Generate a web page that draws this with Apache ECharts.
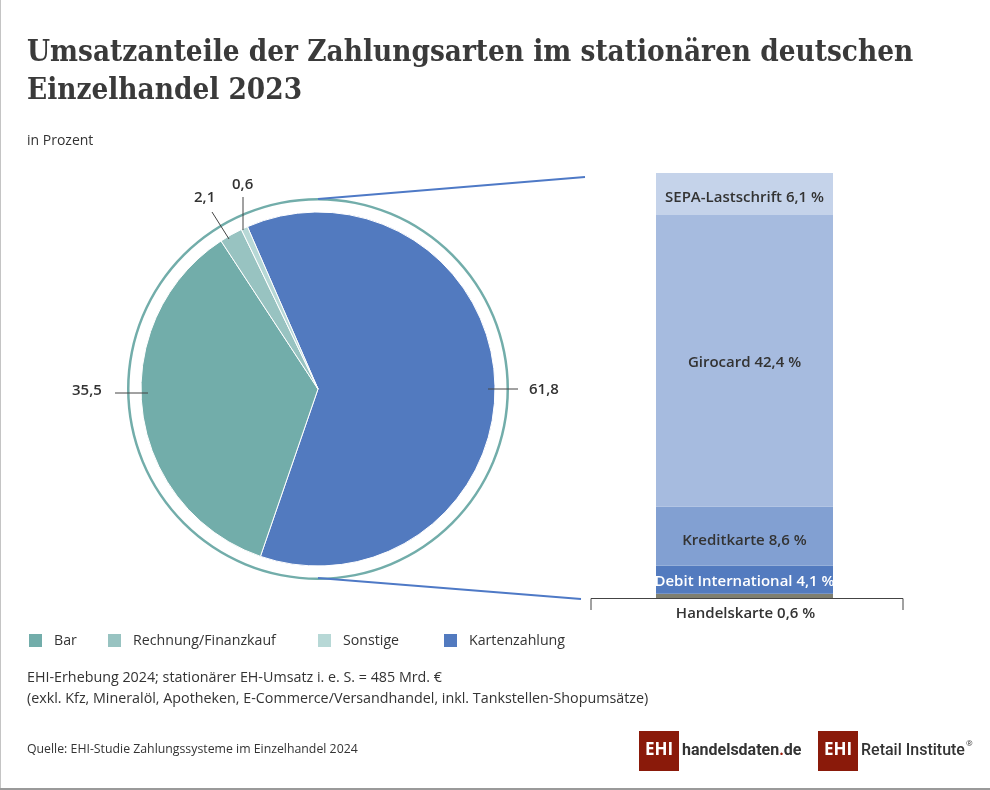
<!DOCTYPE html>
<html>
<head>
<meta charset="utf-8">
<style>html,body{margin:0;padding:0;background:#fff}#main{width:990px;height:790px}</style>
<script src="https://cdn.jsdelivr.net/npm/echarts@6/dist/echarts.min.js"></script>
</head>
<body>
<div id="main"></div>
<script>
// Anteile Kreis
var pieNames = ['Kartenzahlung', 'Bar', 'Rechnung/Finanzkauf', 'Sonstige'];
var pieValues = [61.8, 35.5, 2.1, 0.6];
var pieColors = ['#527ABF', '#72ADAA', '#98C3C1', '#B7D8D6'];
var legendOrder = ['Bar', 'Rechnung/Finanzkauf', 'Sonstige', 'Kartenzahlung'];

// Aufteilung Kartenzahlung, von oben nach unten
var barNames = ['SEPA-Lastschrift', 'Girocard', 'Kreditkarte', 'Debit International', 'Handelskarte'];
var barValues = [6.1, 42.4, 8.6, 4.1, 0.6];
var barColors = ['#C5D3EA', '#A6BBDF', '#82A0D2', '#537BBF', '#7F7F70'];

var bodyFont = 'Open Sans';
var textColor = '#333333';
var leaderColor = '#444444';
var blueLine = '#4E79C6';

function comma(v) { return v.toFixed(1).replace('.', ','); }

// Position der Kreis-Beschriftungen, der Legende und Versatz der Balkentexte
var pieLabelPos = [[529, 382], [72, 383], [194, 190], [232, 177]];
var legendLeft = [27, 106, 316, 442];
var barLabelOffset = [[0, 4], [0, 2], [0, 5], [0, 2], [1, 0]];

// gestapelt von unten: Handelskarte zuerst
var barSeries = [];
for (var i = barNames.length - 1; i >= 0; i--) {
	barSeries.push({
		type: 'bar',
		name: barNames[i],
		stack: 'karte',
		barWidth: '100%',
		silent: true,
		data: [barValues[i]],
		itemStyle: { color: barColors[i] },
		label: {
			show: true,
			position: i == 4 ? 'bottom' : 'inside',
			distance: i == 4 ? 8 : 0,
			offset: barLabelOffset[i],
			formatter: function (p) { return p.seriesName + ' ' + comma(p.value) + ' %'; },
			color: i == 3 ? '#ffffff' : textColor,
			fontFamily: bodyFont,
			fontWeight: 600,
			fontSize: 15
		}
	});
}

var chart = echarts.init(document.getElementById('main'));

function line(x1, y1, x2, y2, color, w) {
	return { type: 'line', z: 20, silent: true, shape: { x1: x1, y1: y1, x2: x2, y2: y2 }, style: { stroke: color, lineWidth: w } };
}
function txt(x, y, s, size, weight, font, color) {
	return { type: 'text', z: 20, silent: true, x: x, y: y, style: { text: s, fontSize: size, fontWeight: weight, fontFamily: font, fill: color || textColor } };
}

var option = {
	backgroundColor: '#ffffff',
	animation: false,
	title: {
		text: 'Umsatzanteile der Zahlungsarten im stationären deutschen\nEinzelhandel 2023',
		left: 22,
		top: 29,
		textStyle: { fontFamily: 'DejaVu Serif Condensed', fontWeight: 700, fontSize: 29.4, lineHeight: 38, color: '#3A3A3A' }
	},
	legend: legendOrder.map(function (n, i) {
		return {
			data: [n],
			left: legendLeft[i],
			top: 632,
			padding: 0,
			itemWidth: 15,
			itemHeight: 15,
			icon: 'rect',
			selectedMode: false,
			textStyle: { fontFamily: bodyFont, fontSize: 14.2, color: textColor, padding: [0, 0, 0, 6] }
		};
	}),
	grid: { left: 656, top: 173, width: 177, height: 425, containLabel: false },
	xAxis: { type: 'category', data: ['Kartenzahlung'], show: false },
	yAxis: { type: 'value', min: 0, max: 61.8, show: false },
	series: [
		{
			type: 'pie',
			center: [318, 389],
			radius: [0, 177],
			startAngle: 113.5,
			clockwise: true,
			silent: true,
			data: pieNames.map(function (n, i) { return { name: n, value: pieValues[i], itemStyle: { color: pieColors[i] } }; }),
			itemStyle: { borderColor: '#ffffff', borderWidth: 1 },
			label: {
				show: true,
				formatter: function (p) { return comma(p.value); },
				fontFamily: bodyFont,
				fontWeight: 600,
				fontSize: 15,
				color: textColor
			},
			labelLine: { show: false },
			labelLayout: function (p) {
				return { x: pieLabelPos[p.dataIndex][0], y: pieLabelPos[p.dataIndex][1], align: 'left', verticalAlign: 'top' };
			}
		},
		{
			// Ring um den Kreis
			type: 'pie',
			center: [318, 389],
			radius: [188.5, 191],
			silent: true,
			label: { show: false },
			labelLine: { show: false },
			data: [{ name: 'Ring', value: 1, itemStyle: { color: '#72ADAA' } }]
		}
	].concat(barSeries),
	graphic: [
		// Verbindungslinien
		line(318, 199, 585, 177, blueLine, 2),
		line(318, 578, 581, 599, blueLine, 2),
		// Beschriftungslinien
		line(488, 389, 518, 389, leaderColor, 1),
		line(115, 393, 148, 393, leaderColor, 1),
		line(212, 212, 229, 239, leaderColor, 1),
		line(243, 197, 243, 230, leaderColor, 1),
		// Klammer Handelskarte
		{ type: 'polyline', z: 20, silent: true, shape: { points: [[591, 610], [591, 598.5], [903, 598.5], [903, 610]] }, style: { stroke: leaderColor, lineWidth: 1, fill: null } },
		// Texte
		txt(27, 134, 'in Prozent', 14, 400, bodyFont),
		txt(27, 671, 'EHI-Erhebung 2024; stationärer EH-Umsatz i. e. S. = 485 Mrd. €', 14.3, 400, bodyFont),
		txt(27, 692, '(exkl. Kfz, Mineralöl, Apotheken, E-Commerce/Versandhandel, inkl. Tankstellen-Shopumsätze)', 14.3, 400, bodyFont),
		txt(27, 743, 'Quelle: EHI-Studie Zahlungssysteme im Einzelhandel 2024', 12.3, 400, bodyFont),
		// Logos
		{ type: 'rect', silent: true, shape: { x: 639, y: 731, width: 40, height: 40 }, style: { fill: '#8A1A0A' } },
		txt(645, 742, 'EHI', 17, 700, 'Open Sans', '#ffffff'),
		{
			type: 'text', z: 20, silent: true, x: 682, y: 743,
			style: {
				text: '{a|handelsdaten}{b|.}{a|de}',
				rich: {
					a: { fontFamily: 'Roboto', fontWeight: 700, fontSize: 16, fill: '#333333' },
					b: { fontFamily: 'Roboto', fontWeight: 700, fontSize: 16, fill: '#A01C0C' }
				}
			}
		},
		{ type: 'rect', silent: true, shape: { x: 818, y: 731, width: 40, height: 40 }, style: { fill: '#8A1A0A' } },
		txt(824, 742, 'EHI', 17, 700, 'Open Sans', '#ffffff'),
		txt(861, 743, 'Retail Institute', 16, 500, 'Roboto', '#333333'),
		txt(966, 740, '®', 8, 400, 'Open Sans', '#333333'),
		// Rahmen
		{ type: 'rect', silent: true, shape: { x: 0, y: 0, width: 1, height: 790 }, style: { fill: '#C4C4C4' } },
		{ type: 'rect', silent: true, shape: { x: 0, y: 788, width: 990, height: 2 }, style: { fill: '#9A9A9A' } }
	]
};
chart.setOption(option);
</script>
</body>
</html>
